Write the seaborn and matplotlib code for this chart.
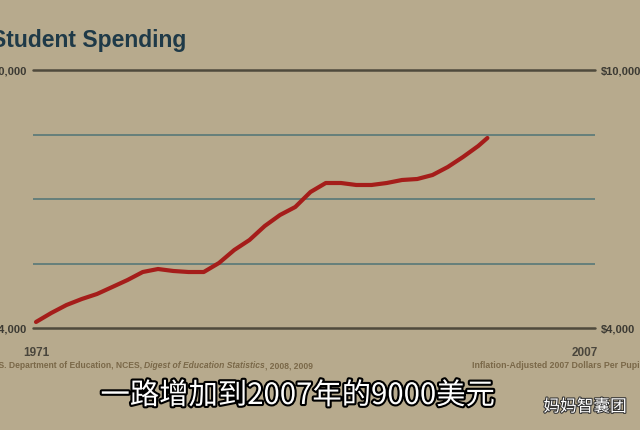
import matplotlib
matplotlib.use("Agg")
import matplotlib.pyplot as plt
import matplotlib.patheffects as pe
import seaborn as sns
import pandas as pd

years = [1971, 1972, 1973, 1974, 1975, 1976, 1977, 1978, 1979, 1980,
         1981, 1982, 1983, 1984, 1985, 1986, 1987, 1988, 1989, 1990,
         1991, 1992, 1993, 1994, 1995, 1996, 1997, 1998, 1999, 2000, 2000.6]
spending = [4140, 4349, 4535, 4674, 4791, 4953, 5116, 5302, 5372, 5326,
            5302, 5302, 5512, 5814, 6047, 6372, 6628, 6814, 7163, 7372,
            7372, 7326, 7326, 7372, 7442, 7465, 7558, 7744, 7977, 8233, 8419]
y_ticks = [4000, 10000]
y_labels = ["$4,000", "$10,000"]
grid_vals = [5500, 7000, 8500]
x_ticks = [1971, 2007]
x_labels = ["1971", "2007"]
title = "Student Spending"
source_parts = ["U.S. Department of Education, NCES, ", "Digest of Education Statistics", ", 2008, 2009"]
units = "Inflation-Adjusted 2007 Dollars Per Pupil"
subtitle = "一路增加到2007年的9000美元"
watermark = "妈妈智囊团"

sns.set_theme(style="white")
plt.rcParams['font.family'] = ['Liberation Sans', 'DejaVu Sans']

BG = "#b7aa8d"
W, H = 640, 430
fig = plt.figure(figsize=(6.4, 4.3), dpi=100, facecolor=BG)
ax = fig.add_axes([33 / W, (H - 328) / H, (595 - 33) / W, (328 - 70) / H])
ax.set_facecolor("none")

df = pd.DataFrame({"year": years, "spending": spending})
sns.lineplot(data=df, x="year", y="spending", ax=ax, color="#a51d1a",
             linewidth=3.0, solid_capstyle="round", zorder=5)

px_per_year = (585 - 36) / 36
ax.set_xlim(1971 - 3 / px_per_year, 2007 + 10 / px_per_year)
ax.set_ylim(4000, 10000)

for v in grid_vals:
    ax.axhline(v, color="#5f7c7a", linewidth=1.3, zorder=1)
for v in y_ticks:
    ax.axhline(v, color="#4f4a3c", linewidth=1.8, zorder=2, clip_on=False)

for s in ax.spines.values():
    s.set_visible(False)

ax.set_yticks(y_ticks)
ax.set_yticklabels(y_labels)
ax.tick_params(axis="y", length=0, pad=4, labelsize=8, labelcolor="#3c3a33",
               labelleft=True, labelright=True)
ax.set_xticks(x_ticks)
ax.set_xticklabels(x_labels)
ax.tick_params(axis="x", length=0, pad=14, labelsize=8.5, labelcolor="#4a463c")
for lbl in ax.get_xticklabels() + ax.get_yticklabels():
    lbl.set_fontweight("bold")
ax.set_xlabel("")
ax.set_ylabel("")

fig.canvas.draw()
renderer = fig.canvas.get_renderer()


def fit(t, target_px):
    bb = t.get_window_extent(renderer)
    t.set_fontsize(t.get_fontsize() * target_px / bb.width)


t_title = fig.text(-9 / W, 1 - 40 / H, title, fontsize=20, fontweight="bold",
                   color="#1f3a48", ha="left", va="center")
fit(t_title, 196)

# source line (fitted so the whole line spans about -12..312 px)
texts = []
styles = ["normal", "italic", "normal"]
for part, st in zip(source_parts, styles):
    texts.append(fig.text(0, 1 - 366 / H, part, fontsize=7, color="#7a6848",
                          fontweight="bold", style=st, ha="left", va="center"))
total = sum(t.get_window_extent(renderer).width for t in texts)
scale = 322 / total
x = -10
for t in texts:
    t.set_fontsize(7 * scale)
    t.set_x(x / W)
    x += t.get_window_extent(renderer).width

t_units = fig.text(1 + 2 / W, 1 - 366 / H, units, fontsize=7, color="#7a6848",
                   fontweight="bold", ha="right", va="center")
fit(t_units, 170)

cjk = ["Noto Sans CJK SC", "DejaVu Sans"]
t_sub = fig.text(298 / W, 1 - 396 / H, subtitle, fontsize=23, color="white",
                 family=cjk, ha="center", va="center",
                 path_effects=[pe.withStroke(linewidth=3, foreground="black")])
fit(t_sub, 395)
fig.text(585 / W, 1 - 407 / H, watermark, fontsize=12, color="white",
         family=cjk, ha="center", va="center",
         path_effects=[pe.withStroke(linewidth=1.5, foreground="#333333")])

fig.savefig("out.png", dpi=100, facecolor=BG)
